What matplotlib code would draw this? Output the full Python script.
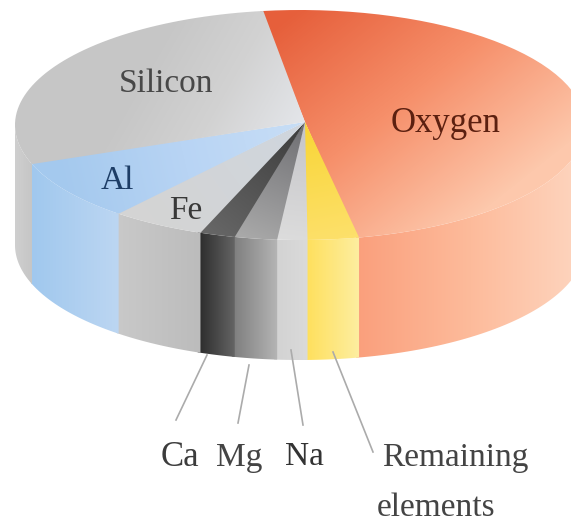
#!/usr/bin/env python3
import numpy as np
import matplotlib
matplotlib.use('Agg')
import matplotlib.pyplot as plt
from matplotlib.colors import LinearSegmentedColormap
from matplotlib.patches import Polygon

# Share of each element in percent, going round the disc from the top edge
elements = ['Oxygen', 'Remaining', 'Na', 'Mg', 'Ca', 'Fe', 'Al', 'Silicon']
shares = [48.9, 2.9, 1.7, 2.4, 2.0, 5.3, 8.5, 28.3]

top_colors = {
    'Oxygen': ['#e65f3b', '#f68f6a', '#fdc8ac'],
    'Remaining': ['#f8d535', '#fde06a'],
    'Na': ['#c4c4c8', '#dcdcdc'],
    'Mg': ['#6e6e72', '#a8a8a8'],
    'Ca': ['#3c3c3c', '#666666'],
    'Fe': ['#cfd6de', '#d4d4d4'],
    'Al': ['#c8def6', '#b8d4f4', '#a4c9ee'],
    'Silicon': ['#c6c6c6', '#d2d2d2', '#e4e6ea'],
}
wall_colors = {
    'Oxygen': ['#fa9f7c', '#fdbb9b', '#fdd6c0'],
    'Remaining': ['#ffdf5a', '#fdeea0'],
    'Na': ['#d2d2d2', '#dadada'],
    'Mg': ['#7c7c7c', '#b4b4b4'],
    'Ca': ['#2a2a2a', '#646464'],
    'Fe': ['#c9c9c9', '#bcbcbc'],
    'Al': ['#a0c8ee', '#bcd6f2'],
    'Silicon': ['#cfcfcf', '#c6c6c6'],
}

# Disc geometry in pixels
cx, cy, rx, ry = 300, 125, 285, 115
apex = (305, 122)
depth = 120
start = 262.3
overlap = 0.3  # degrees, hides hairline seams between slices

W, H = 571, 526
X, Y = np.meshgrid(np.arange(W) + 0.5, np.arange(H) + 0.5)


def rim(a0, a1, n=60):
    t = np.radians(np.linspace(a0, a1, n))
    return np.c_[cx + rx * np.cos(t), cy + ry * np.sin(t)]


def gradient(ax, pts, stops, p0, p1):
    # Fill a polygon with a linear gradient running from p0 to p1
    dx, dy = p1[0] - p0[0], p1[1] - p0[1]
    t = ((X - p0[0]) * dx + (Y - p0[1]) * dy) / (dx * dx + dy * dy)
    cmap = LinearSegmentedColormap.from_list('g', stops)
    im = ax.imshow(np.clip(t, 0, 1), cmap=cmap, vmin=0, vmax=1,
                   extent=(0, W, H, 0), aspect='auto', interpolation='bilinear')
    patch = Polygon(pts, closed=True, transform=ax.transData, fc='none', ec='none')
    ax.add_patch(patch)
    im.set_clip_path(patch)


fig = plt.figure(figsize=(5.71, 5.26), dpi=100)
ax = fig.add_axes([0, 0, 1, 1])

# Angle limits of every slice
edges = start + np.cumsum([0] + shares) * 3.6
slices = dict(zip(elements, zip(edges[:-1], edges[1:])))

# Side walls, only the front half of the disc is visible
for name, (a0, a1) in slices.items():
    lo, hi = max(a0 - 360, 0), min(a1 - 360, 180)
    upper = rim(lo - overlap, hi + overlap)
    lower = upper[::-1] + [0, depth]
    xs = upper[:, 0]
    gradient(ax, np.r_[upper, lower], wall_colors[name], (xs.min(), 0), (xs.max(), 0))

# Top faces
grad_ends = {
    'Oxygen': ((290, 15), (460, 230)),
    'Remaining': ((305, 122), (330, 240)),
    'Na': ((305, 122), (290, 240)),
    'Mg': ((305, 122), (255, 240)),
    'Ca': ((305, 122), (215, 236)),
    'Fe': ((305, 122), (160, 228)),
    'Al': ((305, 122), (60, 180)),
    'Silicon': ((160, 40), (305, 122)),
}
for name, (a0, a1) in slices.items():
    pts = np.r_[[apex], rim(a0 - overlap, a1 + overlap)]
    p0, p1 = grad_ends[name]
    gradient(ax, pts, top_colors[name], p0, p1)

# Leader lines from the wall down to the names
leaders = [((207, 355), (176, 420)), ((249, 365), (238, 423)),
           ((291, 350), (303, 425)), ((333, 352), (373, 452))]
for a, b in leaders:
    ax.plot([a[0], b[0]], [a[1], b[1]], color='#ababab', lw=1.2)

serif = 'Liberation Serif'
ax.text(166, 84, 'Silicon', family=serif, size=24, color='#484848', ha='center', va='center')
ax.text(446, 123, 'Oxygen', family=serif, size=25, color='#5c2010', ha='center', va='center')
ax.text(117, 181, 'Al', family=serif, size=24, color='#1d3d66', ha='center', va='center')
ax.text(186, 211, 'Fe', family=serif, size=24, color='#383838', ha='center', va='center')
ax.text(180, 457, 'Ca', family=serif, size=25, color='#3c3c3c', ha='center', va='center')
ax.text(239, 458, 'Mg', family=serif, size=24, color='#444444', ha='center', va='center')
ax.text(304, 457, 'Na', family=serif, size=24, color='#333333', ha='center', va='center')
ax.text(455, 458, 'Remaining', family=serif, size=24, color='#444444', ha='center', va='center')
ax.text(436, 508, 'elements', family=serif, size=24, color='#444444', ha='center', va='center')

ax.set_xlim(0, W)
ax.set_ylim(H, 0)
ax.axis('off')
fig.savefig('out.png', dpi=100)
